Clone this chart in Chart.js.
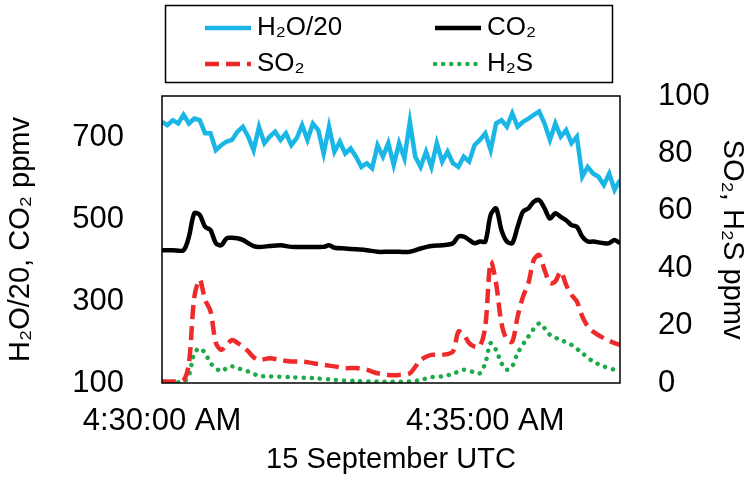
<!DOCTYPE html>
<html><head><meta charset="utf-8">
<script src="https://cdn.jsdelivr.net/npm/chart.js@4"></script>
<style>html,body{margin:0;padding:0;background:#fff}#wrap{width:755px;height:481px}</style>
</head><body><div id="wrap"><canvas id="c"></canvas></div>
<script>
// seconds after 4:30:00
const tH2O = [0,5,10,15,20,25,30,35,40,45,50,55,60,65,70,75,80,85,90,95,100,105,110,115,120,125,130,135,140,145,150,155,160,165,170,175,180,185,190,195,200,205,210,215,220,225,230,235,240,245,250,255,260,265,270,275,280,285,290,295,300,305,310,315,320,325,330,335,340,345,350,355,360,365,370,375,380,385,390,395,400,405,410,415,420,425]
const h2o = [737,729,741,733,754,733,745,741,709,709,668,680,689,693,713,725,701,668,725,685,701,713,693,709,680,697,729,693,733,717,660,725,664,689,660,672,652,627,636,624,680,652,685,632,685,648,737,652,627,664,627,685,640,664,636,627,652,640,680,693,709,668,733,741,725,758,725,737,745,754,762,733,693,733,701,717,685,701,603,627,611,603,583,611,571,595]

const tCO2 = [0,10,20,25,30,35,40,45,50,55,60,65,70,75,80,85,90,100,110,120,130,140,150,155,160,170,180,190,200,210,220,230,240,250,260,270,275,280,285,290,295,300,305,310,315,320,325,330,335,340,345,350,355,360,365,370,375,380,385,390,395,400,410,415,420,425]
const co2 = [424,424,424,457,514,510,481,473,441,436,453,454,453,449,441,434,432,434,436,432,432,432,432,436,430,428,426,424,420,420,420,420,428,434,436,441,457,457,449,441,445,445,510,526,473,445,441,481,518,526,542,546,526,501,514,505,497,485,481,457,445,445,441,441,449,441]

const tSO2 = [0,10,20,25,30,35,40,45,50,55,60,65,70,75,80,85,90,100,110,120,130,140,150,160,170,180,190,200,210,220,230,240,250,260,270,275,280,285,290,295,300,305,310,315,320,325,330,335,340,345,350,355,360,365,370,375,380,385,390,395,400,410,420,425]
const so2 = [0.5,0.5,1,6.9,30,36,29,25,14,11.5,13.3,15,14,12.7,11,9,8,8.6,8,7.5,7.5,6.9,6.3,5.8,5.2,5.2,4.6,3.4,2.8,2.8,3.4,8,9.8,9.8,11,17.9,16.8,13.9,12.7,12.7,19.7,42.3,34.8,20.8,15,14.4,23.2,30.1,34.8,42.9,44.6,39.4,34.8,35.4,38.8,34.2,30.7,28.4,23.2,19.7,17.9,15.6,13.9,13.3]

const tH2S = [0,20,25,30,35,40,45,50,55,60,65,70,80,90,100,120,140,160,180,200,230,240,250,260,270,280,290,295,300,305,310,315,320,325,330,340,350,355,360,370,380,390,400,410,420,425]
const h2s = [0.5,0.5,2.8,10.4,12.1,10.4,6.9,5.2,4,5.2,5.8,5.2,4,2.5,2.3,2,1.7,1.1,0.7,0.5,0.5,1.1,2,2.3,3.2,4.6,3.7,3.4,6.9,13.9,11.5,6.9,4.6,5.8,10.4,16.2,20.8,19.1,16.8,15,13.3,10.4,7.5,5.8,4.6,4]

const leftTicks = [100, 300, 500, 700]
const rightTicks = [0, 20, 40, 60, 80, 100]
const xTicks = [0, 300]
const xLabels = { 0: '4:30:00 AM', 300: '4:35:00 AM' }

const pts = (t, v) => t.map((x, i) => ({ x, y: v[i] }))
const FONT = 'Arial, "Liberation Sans", sans-serif'

// legend drawn in a box above the plot
const boxLegend = {
  id: 'boxLegend',
  afterDraw(chart) {
    const ctx = chart.ctx
    const ca = chart.chartArea
    ctx.save()
    ctx.lineWidth = 1.5
    ctx.strokeStyle = '#000'
    ctx.strokeRect(ca.left, ca.top, ca.right - ca.left, ca.bottom - ca.top)
    ctx.strokeRect(165.5, 5.5, 447, 77)
    const items = [
      [0, 205, 28, 'H₂O/20'], [1, 435, 28, 'CO₂'],
      [2, 205, 64, 'SO₂'], [3, 435, 64, 'H₂S'],
    ]
    items.forEach(([i, x, y, label]) => {
      const ds = chart.data.datasets[i]
      ctx.beginPath()
      ctx.strokeStyle = ds.borderColor
      ctx.lineWidth = ds.borderWidth
      ctx.lineCap = ds.borderCapStyle || 'butt'
      ctx.setLineDash(ds.borderDash || [])
      ctx.moveTo(x, y)
      ctx.lineTo(x + 46, y)
      ctx.stroke()
      ctx.setLineDash([])
      ctx.fillStyle = '#000'
      ctx.font = '26px ' + FONT
      ctx.textBaseline = 'middle'
      ctx.fillText(label, x + 52, y)
    })
    ctx.restore()
  }
}

new Chart(document.getElementById('c'), {
  type: 'line',
  data: {
    datasets: [
      { data: pts(tH2O, h2o), borderColor: '#19b6e6', borderWidth: 4.5, yAxisID: 'y', pointRadius: 0, tension: 0 },
      { data: pts(tCO2, co2), borderColor: '#000000', borderWidth: 4.5, yAxisID: 'y', pointRadius: 0, tension: 0.3 },
      { data: pts(tSO2, so2), borderColor: '#ee2a2a', borderWidth: 4.5, borderDash: [14, 7], yAxisID: 'y2', pointRadius: 0, tension: 0.3 },
      { data: pts(tH2S, h2s), borderColor: '#1eaa4a', borderWidth: 4.5, borderDash: [0.1, 8], borderCapStyle: 'round', yAxisID: 'y2', pointRadius: 0, tension: 0.3 },
    ]
  },
  options: {
    animation: false,
    responsive: true,
    maintainAspectRatio: false,
    layout: { padding: { top: 96, right: 0, left: 0, bottom: 0 } },
    plugins: { legend: { display: false }, tooltip: { enabled: false } },
    scales: {
      x: {
        type: 'linear', min: 0, max: 425,
        afterBuildTicks: a => { a.ticks = xTicks.map(v => ({ value: v })) },
        afterFit: a => { a.height = 98 },
        ticks: { color: '#000', font: { size: 31, family: FONT }, maxRotation: 0, callback: v => xLabels[v], padding: 12 },
        grid: { display: false },
        border: { display: false },
        title: { display: true, text: '15 September UTC', color: '#000', font: { size: 29, family: FONT }, padding: { top: 4 } }
      },
      y: {
        position: 'left', min: 100, max: 800,
        afterBuildTicks: a => { a.ticks = leftTicks.map(v => ({ value: v })) },
        afterFit: a => { a.width = 162 },
        ticks: { color: '#000', font: { size: 31, family: FONT }, padding: 30 },
        grid: { display: false },
        border: { display: false },
        title: { display: true, text: 'H₂O/20, CO₂ ppmv', color: '#000', font: { size: 29, family: FONT }, padding: { bottom: 8 } }
      },
      y2: {
        position: 'right', min: 0, max: 100,
        afterBuildTicks: a => { a.ticks = rightTicks.map(v => ({ value: v })) },
        afterFit: a => { a.width = 135 },
        ticks: { color: '#000', font: { size: 31, family: FONT }, padding: 30 },
        grid: { display: false },
        border: { display: false },
        title: { display: true, text: 'SO₂, H₂S ppmv', color: '#000', font: { size: 29, family: FONT }, padding: { top: 6 } }
      }
    }
  },
  plugins: [boxLegend]
})
</script>
</body></html>
